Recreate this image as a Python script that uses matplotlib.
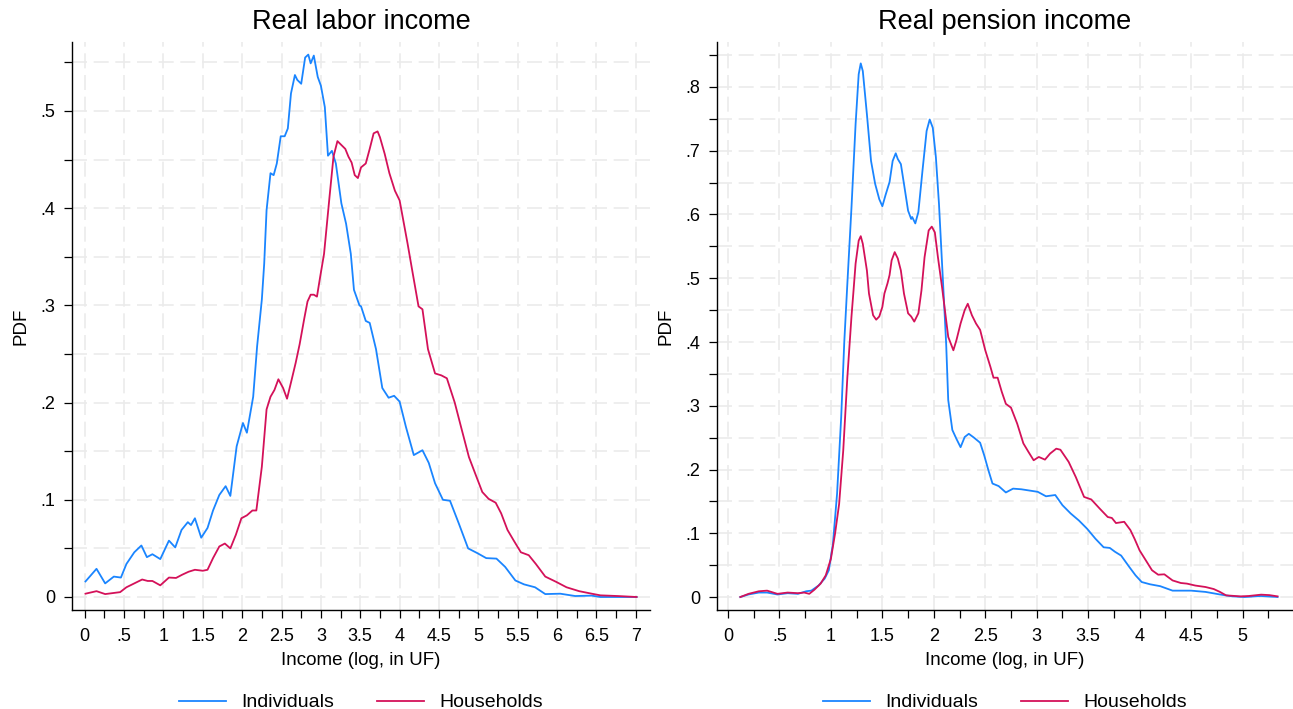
import numpy as np
import matplotlib
matplotlib.use('Agg')
import matplotlib.pyplot as plt
from matplotlib.ticker import FuncFormatter

plt.rcParams['font.family'] = ['Liberation Sans', 'DejaVu Sans']

# Real labor income - individuals (log income, pdf)
labor_ind_x = [0.01, 0.15, 0.26, 0.37, 0.46, 0.53, 0.63, 0.72, 0.79, 0.86, 0.96, 1.07, 1.15, 1.23,
               1.31, 1.35, 1.40, 1.48, 1.56, 1.63, 1.71, 1.79, 1.85, 1.93, 2.01, 2.06, 2.14, 2.19,
               2.25, 2.28, 2.31, 2.36, 2.40, 2.44, 2.49, 2.54, 2.58, 2.62, 2.67, 2.70, 2.75, 2.80,
               2.84, 2.87, 2.91, 2.96, 3.00, 3.05, 3.09, 3.14, 3.19, 3.26, 3.32, 3.38, 3.42, 3.49,
               3.51, 3.57, 3.62, 3.70, 3.78, 3.86, 3.93, 4.00, 4.08, 4.18, 4.29, 4.37, 4.45, 4.55,
               4.64, 4.75, 4.87, 4.99, 5.10, 5.23, 5.34, 5.47, 5.58, 5.72, 5.85, 6.04, 6.23, 6.44,
               6.55, 7.01]
labor_ind_y = [0.016, 0.029, 0.014, 0.021, 0.020, 0.034, 0.046, 0.053, 0.041, 0.044, 0.039, 0.058,
               0.051, 0.069, 0.077, 0.074, 0.081, 0.061, 0.071, 0.089, 0.105, 0.114, 0.104, 0.155,
               0.179, 0.169, 0.206, 0.258, 0.306, 0.343, 0.398, 0.436, 0.434, 0.446, 0.474, 0.474,
               0.482, 0.518, 0.537, 0.532, 0.528, 0.555, 0.558, 0.549, 0.557, 0.535, 0.526, 0.504,
               0.454, 0.459, 0.446, 0.405, 0.384, 0.353, 0.316, 0.300, 0.299, 0.284, 0.282, 0.255,
               0.215, 0.205, 0.207, 0.201, 0.175, 0.146, 0.151, 0.138, 0.117, 0.100, 0.099, 0.076,
               0.050, 0.045, 0.040, 0.0395, 0.031, 0.017, 0.013, 0.010, 0.003, 0.0034, 0.001, 0.0014,
               0.0, 0.0]

# Real labor income - households
labor_hh_x = [0.01, 0.15, 0.26, 0.45, 0.53, 0.63, 0.73, 0.80, 0.86, 0.96, 1.07, 1.16, 1.24, 1.32,
              1.40, 1.50, 1.56, 1.63, 1.71, 1.78, 1.85, 1.92, 1.99, 2.06, 2.13, 2.18, 2.25, 2.31,
              2.36, 2.41, 2.46, 2.52, 2.57, 2.63, 2.68, 2.73, 2.79, 2.83, 2.87, 2.91, 2.95, 2.99,
              3.04, 3.11, 3.16, 3.21, 3.26, 3.31, 3.35, 3.39, 3.43, 3.47, 3.51, 3.57, 3.62, 3.67,
              3.72, 3.75, 3.81, 3.87, 3.94, 4.00, 4.05, 4.10, 4.16, 4.24, 4.29, 4.36, 4.45, 4.53,
              4.60, 4.70, 4.78, 4.88, 4.96, 5.05, 5.13, 5.22, 5.29, 5.37, 5.45, 5.54, 5.64, 5.73,
              5.85, 5.99, 6.12, 6.28, 6.44, 6.55, 6.77, 7.01]
labor_hh_y = [0.0034, 0.006, 0.003, 0.005, 0.010, 0.014, 0.018, 0.0165, 0.0165, 0.012, 0.020, 0.0196,
              0.023, 0.026, 0.028, 0.027, 0.028, 0.040, 0.052, 0.055, 0.050, 0.064, 0.081, 0.084,
              0.089, 0.089, 0.134, 0.193, 0.206, 0.213, 0.224, 0.215, 0.204, 0.224, 0.241, 0.260,
              0.287, 0.304, 0.311, 0.311, 0.309, 0.329, 0.353, 0.412, 0.453, 0.469, 0.465, 0.461,
              0.453, 0.447, 0.434, 0.431, 0.442, 0.446, 0.461, 0.477, 0.479, 0.473, 0.456, 0.436,
              0.418, 0.408, 0.386, 0.364, 0.336, 0.299, 0.296, 0.255, 0.230, 0.228, 0.225, 0.200,
              0.175, 0.144, 0.127, 0.108, 0.101, 0.097, 0.086, 0.069, 0.058, 0.046, 0.043, 0.034,
              0.021, 0.0155, 0.010, 0.006, 0.0034, 0.0017, 0.001, 0.0]

# Real pension income - individuals
pension_ind_x = [0.12, 0.20, 0.30, 0.38, 0.48, 0.58, 0.68, 0.76, 0.81, 0.88, 0.94, 0.98, 1.02, 1.06,
                 1.10, 1.13, 1.16, 1.20, 1.24, 1.27, 1.29, 1.31, 1.35, 1.39, 1.43, 1.47, 1.50, 1.53,
                 1.57, 1.60, 1.63, 1.65, 1.68, 1.71, 1.75, 1.78, 1.79, 1.82, 1.85, 1.89, 1.93, 1.96,
                 1.99, 2.02, 2.05, 2.08, 2.11, 2.12, 2.14, 2.18, 2.22, 2.26, 2.30, 2.34, 2.39, 2.45,
                 2.49, 2.53, 2.57, 2.63, 2.70, 2.77, 2.85, 2.93, 3.01, 3.09, 3.18, 3.25, 3.33, 3.41,
                 3.49, 3.57, 3.65, 3.71, 3.76, 3.82, 3.90, 3.96, 4.02, 4.10, 4.20, 4.32, 4.50, 4.64,
                 4.78, 4.90, 5.02, 5.18, 5.34]
pension_ind_y = [0.0, 0.004, 0.007, 0.007, 0.004, 0.006, 0.005, 0.009, 0.010, 0.018, 0.029, 0.042,
                 0.084, 0.162, 0.282, 0.400, 0.492, 0.611, 0.742, 0.820, 0.837, 0.825, 0.757, 0.684,
                 0.648, 0.624, 0.613, 0.630, 0.651, 0.684, 0.696, 0.687, 0.679, 0.648, 0.606, 0.593,
                 0.596, 0.586, 0.604, 0.669, 0.731, 0.749, 0.736, 0.690, 0.617, 0.523, 0.429, 0.397,
                 0.309, 0.262, 0.248, 0.235, 0.251, 0.256, 0.250, 0.242, 0.222, 0.199, 0.178, 0.174,
                 0.164, 0.170, 0.169, 0.167, 0.165, 0.158, 0.160, 0.144, 0.131, 0.120, 0.107, 0.0915,
                 0.078, 0.077, 0.071, 0.065, 0.047, 0.034, 0.0235, 0.020, 0.017, 0.010, 0.010, 0.008,
                 0.004, 0.001, 0.0, 0.0016, 0.0]

# Real pension income - households
pension_hh_x = [0.12, 0.20, 0.30, 0.38, 0.48, 0.58, 0.68, 0.74, 0.79, 0.84, 0.90, 0.95, 1.00, 1.04,
                1.08, 1.12, 1.16, 1.20, 1.22, 1.24, 1.27, 1.29, 1.31, 1.35, 1.37, 1.41, 1.44, 1.47,
                1.50, 1.52, 1.55, 1.57, 1.59, 1.62, 1.65, 1.68, 1.71, 1.75, 1.78, 1.81, 1.85, 1.88,
                1.91, 1.95, 1.98, 2.01, 2.04, 2.08, 2.12, 2.14, 2.19, 2.22, 2.26, 2.30, 2.33, 2.37,
                2.41, 2.45, 2.50, 2.55, 2.58, 2.62, 2.66, 2.70, 2.75, 2.81, 2.87, 2.92, 2.97, 3.02,
                3.08, 3.13, 3.19, 3.23, 3.31, 3.38, 3.46, 3.53, 3.61, 3.69, 3.73, 3.77, 3.85, 3.91,
                3.95, 4.00, 4.06, 4.12, 4.18, 4.24, 4.32, 4.40, 4.46, 4.54, 4.64, 4.72, 4.78, 4.84,
                4.98, 5.06, 5.18, 5.26, 5.34]
pension_hh_y = [0.0, 0.005, 0.009, 0.010, 0.005, 0.007, 0.006, 0.007, 0.005, 0.0115, 0.021, 0.034,
                0.060, 0.099, 0.146, 0.230, 0.345, 0.440, 0.481, 0.523, 0.559, 0.566, 0.554, 0.512,
                0.476, 0.442, 0.435, 0.440, 0.455, 0.476, 0.492, 0.505, 0.528, 0.541, 0.531, 0.512,
                0.476, 0.445, 0.440, 0.432, 0.445, 0.481, 0.533, 0.575, 0.581, 0.572, 0.533, 0.486,
                0.434, 0.408, 0.387, 0.403, 0.429, 0.450, 0.460, 0.442, 0.429, 0.419, 0.387, 0.361,
                0.344, 0.344, 0.322, 0.303, 0.297, 0.272, 0.241, 0.2275, 0.2145, 0.2197, 0.2155,
                0.225, 0.2327, 0.231, 0.212, 0.188, 0.157, 0.153, 0.139, 0.1255, 0.124, 0.116, 0.118,
                0.105, 0.0915, 0.073, 0.0575, 0.042, 0.035, 0.0356, 0.026, 0.022, 0.021, 0.018,
                0.0157, 0.0125, 0.008, 0.0026, 0.001, 0.0016, 0.0037, 0.003, 0.001]

series_names = ['Individuals', 'Households']
colors = ['#1a85ff', '#d41159']
grid_col = '#ebebeb'


def stata_fmt(v, pos):
    # Stata style labels: 0, .5, 1, 1.5 ...
    s = '%g' % round(v, 3)
    if s.startswith('0.'):
        s = s[1:]
    return s


def style_axes(ax, xmax_tick, ymax_tick, xlim, ylim):
    ax.set_xlim(*xlim)
    ax.set_ylim(*ylim)
    ax.set_xticks(np.arange(0, xmax_tick + 0.01, 0.5))
    ax.set_xticks(np.arange(0.25, xlim[1], 0.5), minor=True)
    ax.set_yticks(np.arange(0, ymax_tick + 0.001, 0.1))
    ax.set_yticks(np.arange(0.05, ylim[1], 0.1), minor=True)
    ax.xaxis.set_major_formatter(FuncFormatter(stata_fmt))
    ax.yaxis.set_major_formatter(FuncFormatter(stata_fmt))
    ax.tick_params(which='both', direction='out', length=6, width=0.9, colors='black',
                   labelsize=13, pad=6)
    ax.tick_params(axis='x', which='both', pad=7)
    # grid: dashed at all y ticks, only major x ticks
    for y in list(ax.get_yticks()) + list(ax.get_yticks(minor=True)):
        ax.axhline(y, color=grid_col, lw=1.2, ls=(0, (9, 4)), zorder=0)
    for x in ax.get_xticks():
        ax.axvline(x, color=grid_col, lw=1.2, ls=(0, (9, 4)), zorder=0)
    for s in ['top', 'right']:
        ax.spines[s].set_visible(False)
    for s in ['left', 'bottom']:
        ax.spines[s].set_linewidth(1.0)
    ax.set_xlabel('Income (log, in UF)', fontsize=13.5, labelpad=5)
    ax.set_ylabel('PDF', fontsize=13.5, labelpad=8)


fig = plt.figure(figsize=(12.93, 7.09), dpi=100)
ax1 = fig.add_axes([0.0557, 0.1396, 0.4470, 0.8012])
ax2 = fig.add_axes([0.5545, 0.1396, 0.4455, 0.8012])

ax1.plot(labor_ind_x, labor_ind_y, color=colors[0], lw=1.3, label=series_names[0])
ax1.plot(labor_hh_x, labor_hh_y, color=colors[1], lw=1.3, label=series_names[1])
style_axes(ax1, 7, 0.5, (-0.161, 7.18), (-0.0134, 0.571))
ax1.set_title('Real labor income', fontsize=19.5, pad=9)

ax2.plot(pension_ind_x, pension_ind_y, color=colors[0], lw=1.3, label=series_names[0])
ax2.plot(pension_hh_x, pension_hh_y, color=colors[1], lw=1.3, label=series_names[1])
style_axes(ax2, 5, 0.8, (-0.107, 5.49), (-0.0204, 0.8706))
ax2.set_title('Real pension income', fontsize=19.5, pad=9)

for ax in [ax1, ax2]:
    ax.legend(loc='center', bbox_to_anchor=(0.5, -0.163), ncol=2, frameon=False,
              fontsize=14, handlelength=2.4, handletextpad=0.8, columnspacing=2.2)

fig.savefig('out.png', dpi=100)
